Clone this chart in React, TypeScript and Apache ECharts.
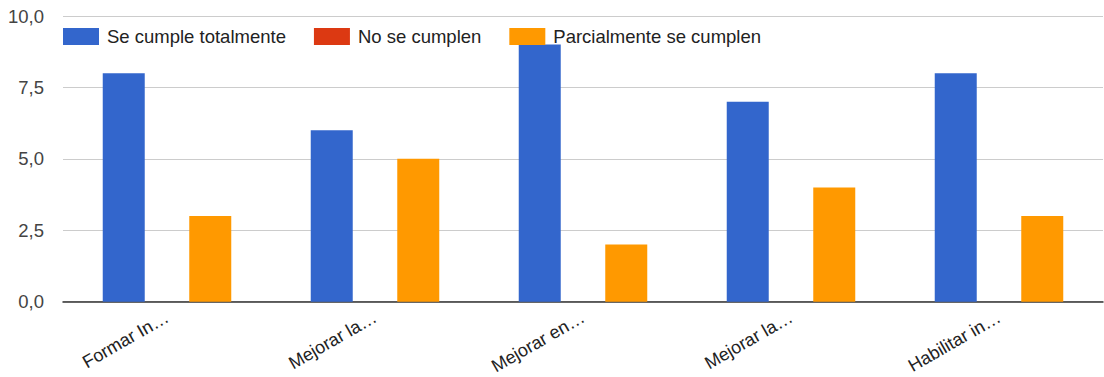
import React, { useEffect, useRef } from "react";
import * as echarts from "echarts";

const categories = ["Formar In…", "Mejorar la…", "Mejorar en…", "Mejorar la…", "Habilitar in…"];
const seriesNames = ["Se cumple totalmente", "No se cumplen", "Parcialmente se cumplen"];
const totalmente = [8, 6, 9, 7, 8];
const noSeCumplen = [0, 0, 0, 0, 0];
const parcialmente = [3, 5, 2, 4, 3];
const colors = ["#3366cc", "#dc3912", "#ff9900"];

export default function App() {
  const ref = useRef<HTMLDivElement>(null);
  useEffect(() => {
    if (!ref.current) return;
    const chart = echarts.init(ref.current, undefined, { renderer: "svg" });
    const font = "Liberation Sans";
    chart.setOption({
      animation: false,
      color: colors,
      textStyle: { fontFamily: font },
      grid: { left: 63, right: 1, top: 16, bottom: 73, containLabel: false },
      legend: {
        left: 63,
        top: 27,
        padding: 0,
        itemWidth: 36,
        itemHeight: 17,
        itemGap: 28,
        icon: "rect",
        textStyle: { fontSize: 18.5, color: "#222", fontFamily: font, padding: [0, 0, 0, 3] },
        data: seriesNames,
      },
      xAxis: {
        type: "category",
        data: categories,
        axisTick: { show: false },
        axisLine: { lineStyle: { color: "#333", width: 1.5 } },
        axisLabel: { rotate: 30, fontSize: 18, color: "#222", margin: 14, interval: 0 },
      },
      yAxis: {
        type: "value",
        min: 0,
        max: 10,
        interval: 2.5,
        axisLine: { show: false },
        axisTick: { show: false },
        splitLine: { lineStyle: { color: "#cccccc" } },
        axisLabel: {
          fontSize: 18.5,
          color: "#444",
          margin: 19,
          formatter: (v: number) => v.toFixed(1).replace(".", ","),
        },
      },
      series: [
        { name: seriesNames[0], type: "bar", data: totalmente, barWidth: 42, barGap: "3%" },
        { name: seriesNames[1], type: "bar", data: noSeCumplen, barWidth: 42, barGap: "3%" },
        { name: seriesNames[2], type: "bar", data: parcialmente, barWidth: 42, barGap: "3%" },
      ],
    });
    return () => chart.dispose();
  }, []);
  return (
    <div
      ref={ref}
      style={{ position: "absolute", left: 0, top: 0, width: 1104, height: 377, background: "#fff" }}
    />
  );
}
